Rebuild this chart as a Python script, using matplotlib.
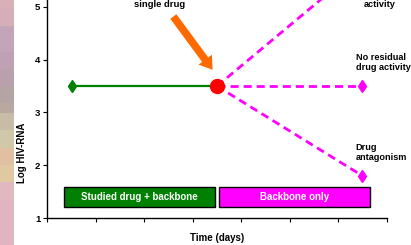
import numpy as np
import matplotlib
matplotlib.use("Agg")
import matplotlib.pyplot as plt
from matplotlib.patches import Rectangle

plt.rcParams['font.family'] = ['Liberation Sans', 'DejaVu Sans']
plt.rcParams['font.weight'] = 'bold'

# ==========================================================
# DATA
# ==========================================================
x_ticks = [0, 1, 2, 3, 4, 5, 6, 7]
y_ticks = [1, 2, 3, 4, 5]

# combination phase (studied drug + backbone)
combo_x = [0.5, 3.5]
combo_y = [3.5, 3.5]

# backbone-only scenarios after the single drug is stopped
stop_x = 3.5
stop_y = 3.5
end_x = 6.5
scenario_end_y = [5.8, 3.5, 1.8]   # residual activity / none / antagonism

# phase boxes: (x start, x end, label, colour)
phase_start = [0.35, 3.54]
phase_end = [3.46, 6.65]
phase_labels = ["Studied drug + backbone", "Backbone only"]
phase_colors = ["#008000", "#FF00FF"]

# slide background strip on the left
strip_edges = [0, 9, 26, 52, 69, 86, 103, 113, 130, 148, 165, 182, 200, 245]
strip_colors = ["#D8B0B8", "#D4AEB8", "#C4A4B8", "#C0A0B4", "#B8A0AC", "#B4A4A4",
                "#B8A8A0", "#C8BCA8", "#D0C8A8", "#E0C0A0", "#E0C8A0", "#E0B8C0", "#E0B4C0"]

# ==========================================================
# FIGURE
# ==========================================================
W, H = 411, 245
fig = plt.figure(figsize=(W / 100, H / 100), dpi=100)

for i, c in enumerate(strip_colors):
    y0 = 1 - strip_edges[i + 1] / H
    h = (strip_edges[i + 1] - strip_edges[i]) / H
    fig.patches.append(Rectangle((0, y0), 14 / W, h, transform=fig.transFigure,
                                 facecolor=c, edgecolor='none', zorder=0))

ax = fig.add_axes([47.3 / W, 27 / H, (386.7 - 47.3) / W, 218 / H])
ax.set_xlim(0, 7)
ax.set_ylim(1, 5 + 7 / 52.75)
ax.patch.set_alpha(0)

ax.spines['top'].set_visible(False)
ax.spines['right'].set_visible(False)
ax.spines['left'].set_linewidth(1)
ax.spines['bottom'].set_linewidth(1)
ax.set_xticks(x_ticks)
ax.set_xticklabels([])
ax.set_yticks(y_ticks)
ax.tick_params(axis='both', direction='out', length=3, width=0.8, pad=2, labelsize=6.8)
for t in ax.get_yticklabels():
    t.set_fontweight('bold')

# combination phase
ax.plot(combo_x, combo_y, color='#008000', lw=1.6, zorder=3)
ax.plot(combo_x[0], combo_y[0], marker='d', color='#008000', markersize=6, zorder=4)

# scenarios
for ye in scenario_end_y:
    ax.plot([stop_x, end_x], [stop_y, ye], color='#FF00FF', lw=2,
            dashes=(2.9, 1.8), zorder=3, clip_on=False)
    ax.plot(end_x, ye, marker='d', color='#FF00FF', markersize=6, zorder=4)

ax.plot(stop_x, stop_y, marker='o', color='#FF0000', markersize=10, zorder=5)

# arrow
ax.annotate("", xy=(3.41, 3.81), xytext=(2.6, 4.82),
            arrowprops=dict(facecolor='#FF6A00', edgecolor='none', width=5.5,
                            headwidth=12, headlength=9), zorder=4)

# phase boxes
for xs, xe, lab, col in zip(phase_start, phase_end, phase_labels, phase_colors):
    ax.add_patch(Rectangle((xs, 1.21), xe - xs, 0.38, facecolor=col,
                           edgecolor='black', lw=1, zorder=3))
    ax.text((xs + xe) / 2, 1.40, lab, color='white', fontsize=7, fontweight='bold',
            ha='center', va='center', zorder=4)

# annotations
ax.text(6.36, 4.13, "No residual\ndrug activity", fontsize=6.6, fontweight='bold',
        ha='left', va='top', linespacing=1.1)
ax.text(6.36, 2.42, "Drug\nantagonism", fontsize=6.6, fontweight='bold',
        ha='left', va='top', linespacing=1.1)
ax.text(6.52, 5.13, "activity", fontsize=6.6, fontweight='bold',
        ha='left', va='top', clip_on=False)
ax.text(2.31, 5.13, "single drug", fontsize=6.8, fontweight='bold',
        ha='center', va='top', clip_on=False)

fig.text(22 / W, 1 - 153 / H, "Log HIV-RNA", rotation=90, fontsize=7,
         fontweight='bold', ha='center', va='center')
fig.text(217 / W, 1 - 238 / H, "Time (days)", fontsize=7, fontweight='bold',
         ha='center', va='center')

fig.savefig("out.png", dpi=100)
